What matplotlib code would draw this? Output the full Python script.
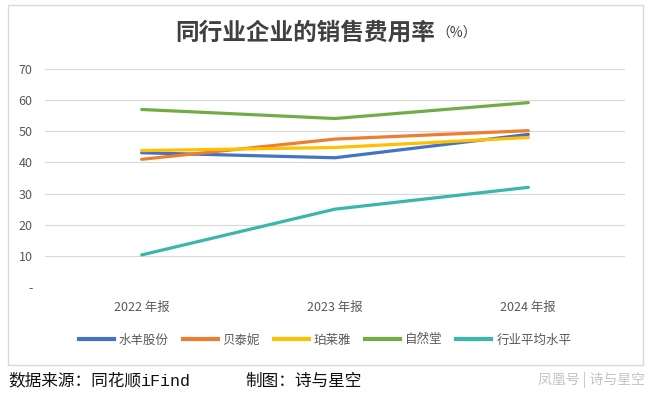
import matplotlib
matplotlib.use("Agg")
import matplotlib.pyplot as plt
from matplotlib.patches import Rectangle
from matplotlib.lines import Line2D

plt.rcParams['font.family'] = ['Noto Sans CJK SC', 'DejaVu Sans']

categories = ["2022 年报", "2023 年报", "2024 年报"]
series_names = ["水羊股份", "贝泰妮", "珀莱雅", "自然堂", "行业平均水平"]
shuiyang = [43.1, 41.5, 49.0]
betaini = [41.0, 47.5, 50.2]
proya = [43.8, 44.8, 48.0]
chando = [57.0, 54.1, 59.2]
industry_avg = [10.3, 25.0, 32.0]
series_values = [shuiyang, betaini, proya, chando, industry_avg]
colors = ["#4472C4", "#ED7D31", "#FFC000", "#70AD47", "#3BB6AA"]
y_ticks = [0, 10, 20, 30, 40, 50, 60, 70]
y_ticklabels = ["-", "10", "20", "30", "40", "50", "60", "70"]

W, H = 650, 398
fig = plt.figure(figsize=(W / 100, H / 100), dpi=100)
fig.patch.set_facecolor("white")

def fx(px):
    return px / W

def fy(py):
    return 1 - py / H

# outer chart border
fig.patches.append(Rectangle((fx(8), fy(365)), fx(643) - fx(8), fy(5) - fy(365),
                             transform=fig.transFigure, fill=False,
                             edgecolor="#d9d9d9", linewidth=1.0))

ax = fig.add_axes([fx(45), fy(287), fx(625) - fx(45), fy(69) - fy(287)])
x = list(range(len(categories)))
for name, vals, c in zip(series_names, series_values, colors):
    ax.plot(x, vals, color=c, linewidth=2.3, solid_capstyle="round", label=name)

ax.set_xlim(-0.5, len(categories) - 0.5)
ax.set_ylim(0, 70)
ax.set_yticks(y_ticks)
ax.set_yticklabels(y_ticklabels)
ax.set_xticks(x)
ax.set_xticklabels(categories)
ax.grid(axis="y", color="#d9d9d9", linewidth=0.8)
ax.set_axisbelow(True)
for s in ax.spines.values():
    s.set_visible(False)
ax.tick_params(axis="both", length=0, colors="#595959", labelsize=9)
ax.tick_params(axis="y", pad=9)
ax.tick_params(axis="x", pad=10)

# title
fig.text(fx(435), fy(33), "同行业企业的销售费用率", ha="right", va="center",
         fontsize=17, fontweight="bold", color="#404040")
fig.text(fx(436), fy(34), "（%）", ha="left", va="center",
         fontsize=10, color="#404040")

# legend
handles = [Line2D([0], [0], color=c, linewidth=3) for c in colors]
fig.legend(handles, series_names, loc="center", bbox_to_anchor=(fx(325), fy(340)),
           ncol=5, frameon=False, fontsize=9, handlelength=2.8,
           handletextpad=0.4, columnspacing=1.1, labelcolor="#595959")

# footer
fig.text(fx(8), fy(381), "数据来源：同花顺", ha="left", va="center",
         fontsize=12, color="#111111")
fig.text(fx(141), fy(381), "iFind", ha="left", va="center",
         fontsize=12, color="#111111", family=["Liberation Mono", "DejaVu Sans Mono"])
fig.text(fx(245), fy(381), "制图：诗与星空", ha="left", va="center",
         fontsize=12, color="#111111")
fig.text(fx(645), fy(380), "凤凰号 | 诗与星空", ha="right", va="center",
         fontsize=10, color="#c4c4c4")

fig.savefig("out.png", dpi=100, facecolor="white")
